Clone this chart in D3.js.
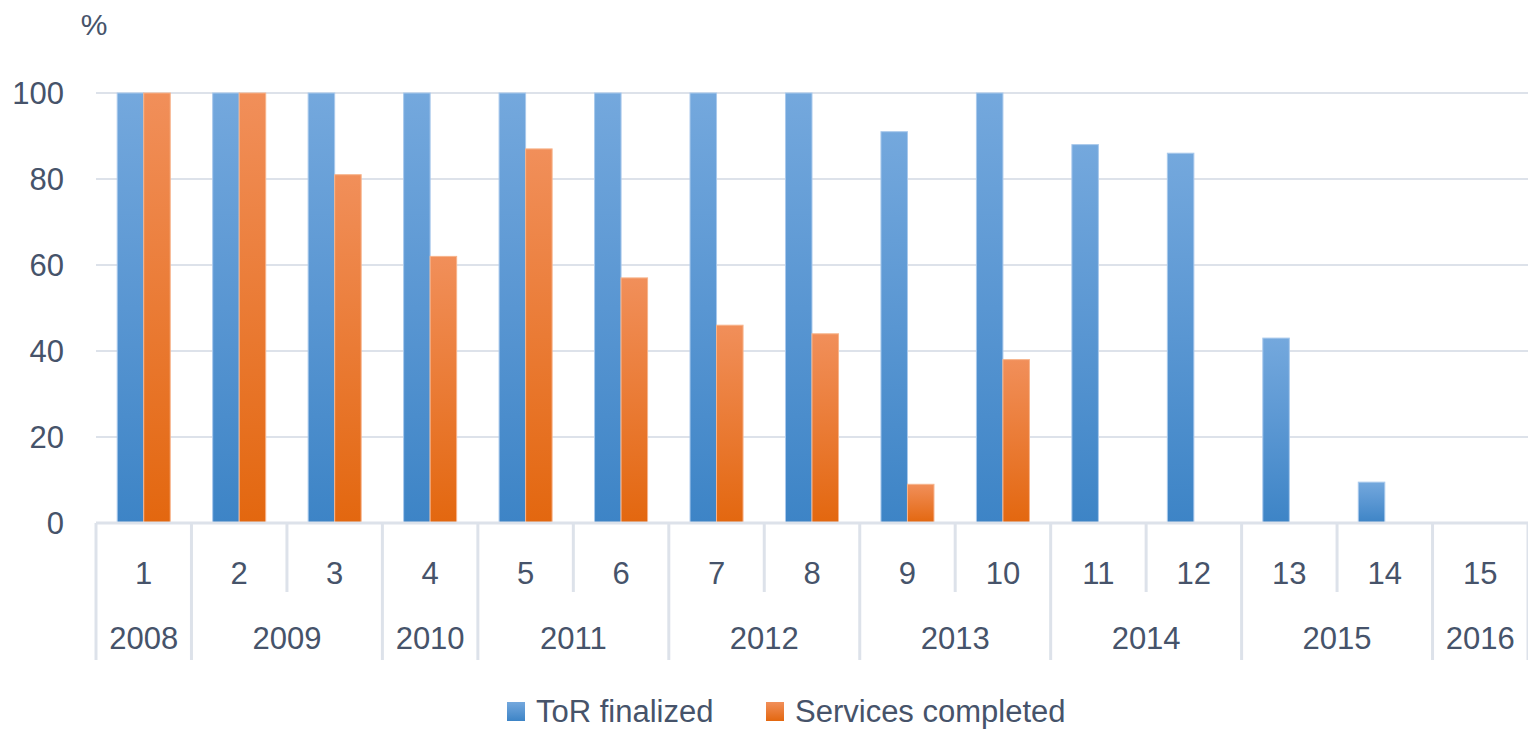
<!DOCTYPE html>
<html><head><meta charset="utf-8">
<script src="https://cdn.jsdelivr.net/npm/d3@7"></script>
<style>body{margin:0;background:#fff}svg{display:block}text{font-family:"Liberation Sans",Arial,sans-serif;fill:#46536a}</style>
</head><body><svg id="c" width="1528" height="731"></svg>
<script>
const categories = ["1","2","3","4","5","6","7","8","9","10","11","12","13","14","15"];
const torFinalized = [100,100,100,100,100,100,100,100,91,100,88,86,43,9.5,0];
const servicesCompleted = [100,100,81,62,87,57,46,44,9,38,0,0,0,0,0];
const yearGroups = [["2008",1],["2009",2],["2010",1],["2011",2],["2012",2],["2013",2],["2014",2],["2015",2],["2016",1]];
const seriesNames = ["ToR finalized","Services completed"];
const yTicks = [0,20,40,60,80,100];

const svg = d3.select("#c");
const fs = 31;
const x = d3.scaleBand().domain(categories).range([96,1528]);
const x1 = d3.scaleBand().domain(seriesNames).range([0,x.bandwidth()]).paddingOuter(0.8);
const y = d3.scaleLinear().domain([0,100]).range([523,93]);

const defs = svg.append("defs");
const grads = [["gb","#74a8dd","#3d84c6"],["go","#f18f5a","#e3670f"]];
grads.forEach(([id,c1,c2])=>{
  const g = defs.append("linearGradient").attr("id",id).attr("x1",0).attr("y1",0).attr("x2",0).attr("y2",1);
  g.append("stop").attr("offset","0%").attr("stop-color",c1);
  g.append("stop").attr("offset","50%").attr("stop-color",d3.interpolateRgb(c1,c2)(0.5));
  g.append("stop").attr("offset","100%").attr("stop-color",c2);
});

// gridlines
svg.append("g").selectAll("line").data(yTicks).join("line")
  .attr("x1",96).attr("x2",1528).attr("y1",d=>y(d)).attr("y2",d=>y(d))
  .attr("stroke","#dde2ea").attr("stroke-width",2);

// y labels
svg.append("g").selectAll("text").data(yTicks).join("text")
  .attr("x",64).attr("y",d=>y(d)).attr("dy","0.36em").attr("text-anchor","end")
  .attr("font-size",fs).text(d=>d);
svg.append("text").attr("x",94).attr("y",24).attr("dy","0.36em").attr("text-anchor","middle").attr("font-size",fs-1).text("%");

// bars
const data = categories.map((c,i)=>({c, vals:[{s:seriesNames[0],v:torFinalized[i]},{s:seriesNames[1],v:servicesCompleted[i]}]}));
const gs = svg.append("g").selectAll("g").data(data).join("g").attr("transform",d=>`translate(${x(d.c)},0)`);
gs.selectAll("rect").data(d=>d.vals.filter(e=>e.v>0)).join("rect")
  .attr("x",d=>x1(d.s)).attr("width",x1.bandwidth())
  .attr("y",d=>y(d.v)).attr("height",d=>y(0)-y(d.v))
  .attr("fill",d=>d.s===seriesNames[0]?"url(#gb)":"url(#go)")
  .attr("stroke",d=>d.s===seriesNames[0]?"#a9c9ec":"#f7b48c").attr("stroke-width",1);

// category axis
const ax = svg.append("g").attr("stroke","#dde2ea").attr("stroke-width",3);
ax.append("line").attr("x1",96).attr("x2",1528).attr("y1",y(0)).attr("y2",y(0));
let idx = 0;
const bounds = new Set([0]);
yearGroups.forEach(([yr,n])=>{ idx+=n; bounds.add(idx); });
for (let i=0;i<=categories.length;i++){
  const xp = i<categories.length ? x(categories[i]) : x.range()[1];
  ax.append("line").attr("x1",xp).attr("x2",xp).attr("y1",y(0))
    .attr("y2",bounds.has(i)?660:592);
}
svg.append("g").selectAll("text").data(categories).join("text")
  .attr("x",d=>x(d)+x.bandwidth()/2).attr("y",573).attr("dy","0.36em").attr("text-anchor","middle")
  .attr("font-size",fs).text(d=>d);
let start = 0;
yearGroups.forEach(([yr,n])=>{
  const x0 = x(categories[start]);
  const xe = x(categories[start+n-1])+x.bandwidth();
  svg.append("text").attr("x",(x0+xe)/2).attr("y",638).attr("dy","0.36em").attr("text-anchor","middle").attr("font-size",fs).text(yr);
  start+=n;
});

// legend
const leg = svg.append("g");
const legItems = [{name:seriesNames[0],fill:"url(#gb)",x:507},{name:seriesNames[1],fill:"url(#go)",x:766}];
legItems.forEach(it=>{
  leg.append("rect").attr("x",it.x).attr("y",702).attr("width",18).attr("height",19).attr("fill",it.fill);
  leg.append("text").attr("x",it.x+29).attr("y",711).attr("dy","0.36em").attr("font-size",fs).text(it.name);
});
</script></body></html>
